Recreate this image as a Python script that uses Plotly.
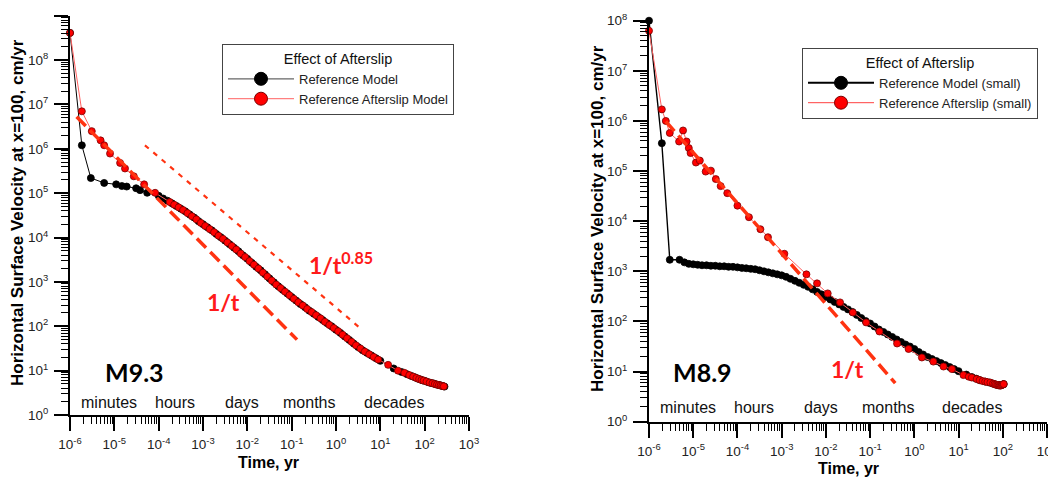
import plotly.graph_objects as go

# ---------------- data: M9.3 panel ----------------
m93_ref_t = [1e-6, 1.85e-6, 2.95e-6, 5.9e-6, 1.1e-5, 1.48e-5, 1.9e-5, 3.1e-5, 3.8e-5, 5.5e-5,
             1.0e-4, 1.26e-4, 1.58e-4, 2.0e-4, 2.51e-4, 3.16e-4, 3.98e-4, 5.01e-4, 6.31e-4, 7.94e-4,
             1.0e-3, 1.26e-3, 1.58e-3, 2.0e-3, 2.51e-3, 3.16e-3, 3.98e-3, 5.01e-3, 6.31e-3, 7.94e-3,
             1.0e-2, 1.26e-2, 1.58e-2, 2.0e-2, 2.51e-2, 3.16e-2, 3.98e-2, 5.01e-2, 6.31e-2, 7.94e-2,
             0.1, 0.126, 0.158, 0.2, 0.251, 0.316, 0.398, 0.501, 0.631, 0.794,
             1.0, 1.26, 1.58, 2.0, 2.51, 3.16, 3.98, 5.01, 6.31, 7.94,
             10, 20, 30, 40, 50, 60, 70, 80, 90, 100, 120, 140, 160, 180, 200, 220, 240, 260, 280]
m93_ref_v = [4.1e8, 1.2e6, 2.19e5, 1.70e5, 1.58e5, 1.45e5, 1.41e5, 1.29e5, 1.17e5, 1.02e5,
             8.71e4, 7.59e4, 6.76e4, 5.89e4, 5.13e4, 4.47e4, 3.89e4, 3.31e4, 2.82e4, 2.34e4,
             2.0e4, 1.70e4, 1.45e4, 1.20e4, 1.02e4, 8.51e3, 7.08e3, 5.89e3, 4.90e3, 3.98e3,
             3.31e3, 2.69e3, 2.19e3, 1.82e3, 1.48e3, 1.20e3, 977, 794, 661, 550,
             457, 380, 316, 269, 224, 191, 162, 138, 117, 100,
             83.2, 70.8, 58.9, 49.0, 40.7, 33.9, 28.8, 25.1, 21.9, 19.1,
             16.6, 11.2, 9.33, 8.32, 7.59, 7.08, 6.61, 6.31, 6.03, 5.89, 5.50, 5.25, 5.13, 4.90, 4.79, 4.68, 4.57, 4.47, 4.37]
m93_as_t = [1e-6, 1.85e-6, 3.1e-6, 4.9e-6, 5.9e-6, 8.0e-6, 1.35e-5, 1.74e-5, 2.75e-5, 4.7e-5, 8.3e-5,
            1.78e-4, 2.24e-4, 2.82e-4, 3.55e-4, 4.47e-4, 5.62e-4, 7.08e-4, 8.91e-4,
            1.12e-3, 1.41e-3, 1.78e-3, 2.24e-3, 2.82e-3, 3.55e-3, 4.47e-3, 5.62e-3, 7.08e-3, 8.91e-3,
            1.12e-2, 1.41e-2, 1.78e-2, 2.24e-2, 2.82e-2, 3.55e-2, 4.47e-2, 5.62e-2, 7.08e-2, 8.91e-2,
            0.112, 0.141, 0.178, 0.224, 0.282, 0.355, 0.447, 0.562, 0.708, 0.891,
            1.12, 1.41, 1.78, 2.24, 2.82, 3.55, 4.47, 5.62, 7.08, 8.91,
            15, 25, 35, 45, 55, 65, 75, 85, 95, 110, 130, 150, 170, 190, 210, 230, 250, 270]
m93_as_v = [4.1e8, 7.0e6, 2.5e6, 1.55e6, 1.2e6, 7.8e5, 4.8e5, 3.6e5, 2.4e5, 1.58e5, 1.02e5,
            6.31e4, 5.50e4, 4.79e4, 4.17e4, 3.55e4, 3.02e4, 2.57e4, 2.14e4,
            1.82e4, 1.55e4, 1.32e4, 1.10e4, 9.33e3, 7.76e3, 6.46e3, 5.37e3, 4.37e3, 3.63e3,
            2.95e3, 2.45e3, 2.0e3, 1.62e3, 1.32e3, 1.07e3, 871, 724, 603, 501,
            417, 347, 295, 245, 209, 178, 151, 126, 107, 91.2,
            77.6, 64.6, 53.7, 44.7, 37.2, 31.6, 26.9, 23.4, 20.4, 17.8,
            13.5, 10.0, 8.91, 7.94, 7.33, 6.84, 6.46, 6.17, 5.96, 5.69, 5.37, 5.19, 5.01, 4.84, 4.73, 4.62, 4.52, 4.42]
m93_inv_t = [1.41e-6, 0.132]        # 1/t guide
m93_inv_v = [5.25e6, 50]
m93_p85_t = [4.9e-5, 3.8]           # 1/t^0.85 guide
m93_p85_v = [1.2e6, 85]

# ---------------- data: M8.9 panel ----------------
m89_ref_t = [1e-6, 1.95e-6, 2.95e-6, 4.9e-6,
             6.31e-6, 7.94e-6, 1.0e-5, 1.26e-5, 1.58e-5, 2.0e-5, 2.51e-5, 3.16e-5, 3.98e-5, 5.01e-5, 6.31e-5, 7.94e-5,
             1.0e-4, 1.26e-4, 1.58e-4, 2.0e-4, 2.51e-4, 3.16e-4, 3.98e-4, 5.01e-4, 6.31e-4, 7.94e-4,
             1.0e-3, 1.26e-3, 1.58e-3, 2.0e-3, 2.51e-3, 3.16e-3, 3.98e-3, 5.01e-3, 6.31e-3, 7.94e-3,
             1.0e-2, 1.26e-2, 1.58e-2, 2.0e-2, 2.51e-2, 3.16e-2, 3.98e-2, 5.01e-2, 6.31e-2, 7.94e-2,
             0.1, 0.126, 0.158, 0.2, 0.251, 0.316, 0.398, 0.501, 0.631, 0.794,
             1.0, 1.26, 1.58, 2.0, 2.51, 3.16, 3.98, 5.01, 6.31, 7.94,
             10, 15, 20, 25, 30, 40, 50, 60, 70, 80, 90, 100, 105]
m89_ref_v = [1.0e8, 3.6e5, 1.7e3, 1.7e3,
             1.51e3, 1.41e3, 1.38e3, 1.35e3, 1.32e3, 1.32e3, 1.29e3, 1.29e3, 1.26e3, 1.26e3, 1.23e3, 1.23e3,
             1.20e3, 1.17e3, 1.15e3, 1.12e3, 1.10e3, 1.05e3, 1.0e3, 955, 912, 871,
             832, 776, 708, 646, 589, 537, 490, 437, 389, 347,
             309, 275, 245, 219, 195, 174, 155, 135, 117, 102,
             91.2, 79.4, 69.2, 61.7, 55.0, 49.0, 43.7, 38.9, 34.7, 31.6,
             28.2, 24.5, 21.9, 19.5, 17.8, 16.2, 14.8, 13.5, 12.3, 11.2,
             10.2, 8.71, 7.76, 7.24, 6.76, 6.31, 6.03, 5.75, 5.50, 5.37, 5.37, 5.50, 5.62]
m89_as_t = [1e-6, 1.95e-6, 2.4e-6, 2.95e-6, 4.79e-6, 5.89e-6, 7.08e-6, 7.94e-6, 8.71e-6, 1.15e-5, 1.41e-5,
            1.91e-5, 2.51e-5, 3.24e-5, 4.17e-5, 5.89e-5, 1.0e-4, 1.82e-4, 3.31e-4, 4.90e-4, 1.15e-3,
            3.63e-3, 6.31e-3, 1.10e-2, 2.09e-2, 4.07e-2, 8.13e-2, 0.162, 0.407, 0.741, 1.48, 2.69,
            4.57, 7.08, 12.9, 17, 20, 25.7, 30, 35, 40, 45, 52.5, 60, 65, 70, 75, 80, 85, 90, 95, 100, 105]
m89_as_v = [6.3e7, 1.7e6, 1.0e6, 5.75e5, 3.89e5, 6.46e5, 3.89e5, 2.88e5, 2.29e5, 1.48e5, 1.62e5,
            9.77e4, 1.02e5, 6.92e4, 5.01e4, 3.63e4, 2.04e4, 1.20e4, 6.92e3, 4.79e3, 2.24e3,
            871, 575, 363, 240, 151, 95.5, 63.1, 36.3, 28.2, 19.1, 15.8,
            12.6, 11.2, 8.51, 7.9, 7.59, 7.08, 6.76, 6.46, 6.31, 6.17, 6.03, 5.75, 5.62, 5.50, 5.37, 5.37, 5.25, 5.25, 5.37, 5.50, 5.62]
m89_inv_t = [2.4e-6, 0.37]          # 1/t guide
m89_inv_v = [9.8e5, 5.9]

# ---------------- ticks / labels ----------------
x_tickvals = [1e-6, 1e-5, 1e-4, 1e-3, 1e-2, 1e-1, 1e0, 1e1, 1e2, 1e3]
x_ticktext = ["10<sup>-6</sup>", "10<sup>-5</sup>", "10<sup>-4</sup>", "10<sup>-3</sup>", "10<sup>-2</sup>",
              "10<sup>-1</sup>", "10<sup>0</sup>", "10<sup>1</sup>", "10<sup>2</sup>", "10<sup>3</sup>"]
y1_tickvals = [1e0, 1e1, 1e2, 1e3, 1e4, 1e5, 1e6, 1e7, 1e8, 1e9]
y1_ticktext = ["10<sup>%d</sup>" % k for k in range(10)]
y2_tickvals = y1_tickvals[:9]
y2_ticktext = y1_ticktext[:9]
time_words = ["minutes", "hours", "days", "months", "decades"]
time_word_logt = [-5.12, -3.63, -2.12, -0.60, 1.31]

# the page body adds an 8px offset, so screen pixel positions are shifted back by it
W, H = 1056, 477
OFF = 8
def px(x): return (x - OFF) / W
def py(y): return 1 - (y - OFF) / H

def minor_vals(lo, hi):
    return [m * 10.0 ** e for e in range(lo, hi) for m in range(2, 10)]

RED = "#ff0000"
RED_LINE = "#ff6060"
GUIDE = "#ff3311"
TXT_RED = "#ff1a1a"

fig = go.Figure()

def series(t, v, xa, ya, fill, lcol, lw, mline):
    fig.add_trace(go.Scatter(x=t, y=v, xaxis=xa, yaxis=ya, mode="lines+markers",
                             line=dict(color=lcol, width=lw),
                             marker=dict(size=7, color=fill, line=dict(color=mline, width=0.8)),
                             showlegend=False, cliponaxis=False, hoverinfo="skip"))

def guide(t, v, xa, ya, width, dash):
    fig.add_trace(go.Scatter(x=t, y=v, xaxis=xa, yaxis=ya, mode="lines",
                             line=dict(color=GUIDE, width=width, dash=dash),
                             showlegend=False, hoverinfo="skip"))

def legend_item(name, xa, ya, lcol, lw, fill, mline, leg):
    fig.add_trace(go.Scatter(x=[None], y=[None], xaxis=xa, yaxis=ya, mode="lines+markers", name=name,
                             line=dict(color=lcol, width=lw),
                             marker=dict(size=13, color=fill, line=dict(color=mline, width=1)),
                             legend=leg))

# left panel
series(m93_ref_t, m93_ref_v, "x", "y", "black", "black", 1, "black")
series(m93_as_t, m93_as_v, "x", "y", RED, RED_LINE, 1, "#7a0000")
guide(m93_inv_t, m93_inv_v, "x", "y", 3.5, "13px,6px")
guide(m93_p85_t, m93_p85_v, "x", "y", 2.2, "5px,6px")
legend_item("Reference Model", "x", "y", "#666666", 1.2, "black", "black", "legend")
legend_item("Reference Afterslip Model", "x", "y", "#ff8080", 1.2, RED, "#7a0000", "legend")

# right panel
series(m89_ref_t, m89_ref_v, "x2", "y2", "black", "black", 1.4, "black")
series(m89_as_t, m89_as_v, "x2", "y2", RED, RED_LINE, 1, "#7a0000")
guide(m89_inv_t, m89_inv_v, "x2", "y2", 3.5, "13px,6px")
legend_item("Reference Model (small)", "x2", "y2", "black", 2, "black", "black", "legend2")
legend_item("Reference Afterslip (small)", "x2", "y2", "#ff4040", 1, RED, "#7a0000", "legend2")

tickfont = dict(family="Arial, Liberation Sans", size=13.5, color="#222222")

def axis(domain, rng, tv, tt, minor, anchor, standoff):
    return dict(type="log", domain=domain, range=rng, anchor=anchor, automargin=False,
                showline=True, linecolor="black", linewidth=2, mirror=False,
                ticks="outside", ticklen=14, tickwidth=1.5, tickcolor="black",
                tickmode="array", tickvals=tv, ticktext=tt, tickfont=tickfont,
                ticklabelstandoff=standoff,
                showgrid=False, zeroline=False,
                minor=dict(ticks="outside", ticklen=7, tickwidth=1, tickcolor="black",
                           tickmode="array", tickvals=minor, showgrid=False))

ann = []
def text(x, y, s, size, color="black", family="Arial, Liberation Sans", angle=0, xref="paper"):
    ann.append(dict(x=x, y=y, xref=xref, yref="paper", text=s, showarrow=False,
                    font=dict(family=family, size=size, color=color), textangle=angle,
                    xanchor="center", yanchor="middle"))

# axis titles
text(px(17), py(213), "<b>Horizontal Surface Velocity at x=100, cm/yr</b>", 17, angle=-90)
text(px(268), py(462), "<b>Time, yr</b>", 16)
text(px(597), py(219), "<b>Horizontal Surface Velocity at x=100, cm/yr</b>", 17, angle=-90)
text(px(848), py(468), "<b>Time, yr</b>", 16)

# panel labels and guides
text(px(134), py(372), "<b>M9.3</b>", 25, family="Lato")
text(px(702), py(372), "<b>M8.9</b>", 25, family="Lato")
text(px(223), py(302), "<b>1/t</b>", 23, color=TXT_RED, family="Lato")
text(px(341), py(263), "<b>1/t<sup>0.85</sup></b>", 23, color=TXT_RED, family="Lato")
text(px(847), py(369), "<b>1/t</b>", 23, color=TXT_RED, family="Lato")

for w, lt in zip(time_words, time_word_logt):
    text(lt, py(402), w, 16, color="#111111", xref="x")
    text(lt, py(407), w, 16, color="#111111", xref="x2")

leg_common = dict(xanchor="left", yanchor="top", bgcolor="white", bordercolor="#444444", borderwidth=1,
                  font=dict(family="Arial, Liberation Sans", size=13, color="#222222"),
                  itemwidth=66, tracegroupgap=0)
leg_title_font = dict(family="Arial, Liberation Sans", size=14.5, color="#111111")

fig.update_layout(
    template="none",
    width=W, height=H, autosize=False,
    margin=dict(l=0, r=0, t=0, b=0, autoexpand=False),
    paper_bgcolor="white", plot_bgcolor="white",
    xaxis=axis([px(70), px(469)], [-6, 3], x_tickvals, x_ticktext, minor_vals(-6, 3), "y", 2),
    yaxis=axis([py(415), py(15.7)], [0, 9], y1_tickvals, y1_ticktext, minor_vals(0, 9), "x", 3),
    xaxis2=axis([px(649), px(1047)], [-6, 3], x_tickvals, x_ticktext, minor_vals(-6, 3), "y2", 2),
    yaxis2=axis([py(421.7), py(20.7)], [0, 8], y2_tickvals, y2_ticktext, minor_vals(0, 8), "x2", 3),
    legend=dict(x=px(222), y=py(44),
                title=dict(text="Effect of Afterslip", side="top center", font=leg_title_font),
                **leg_common),
    legend2=dict(x=px(802), y=py(48),
                 title=dict(text="Effect of Afterslip", side="top center", font=leg_title_font),
                 **leg_common),
    annotations=ann,
)

fig.write_html("out.html")
